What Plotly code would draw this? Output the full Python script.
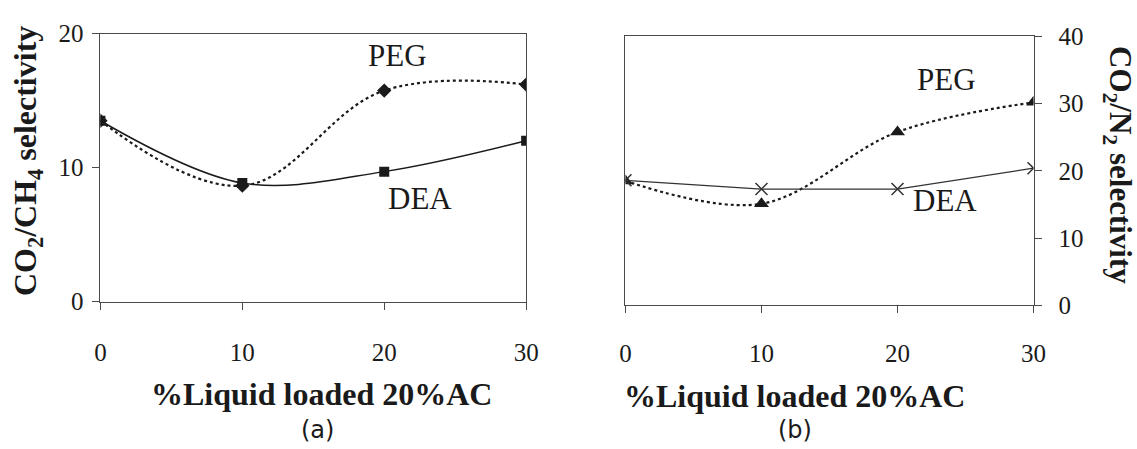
import plotly.graph_objects as go

# ---- data ----
loading = [0, 10, 20, 30]
peg_ch4 = [13.5, 8.65, 15.75, 16.2]
dea_ch4 = [13.5, 8.85, 9.7, 12.0]
peg_n2 = [18.5, 15.1, 25.8, 30.2]
dea_n2 = [18.6, 17.3, 17.3, 20.4]
xticks = [0, 10, 20, 30]
yticks_a = [0, 10, 20]
yticks_b = [0, 10, 20, 30, 40]

SERIF = "Liberation Serif, Times New Roman, serif"
INK = "#1a1a1a"
AXC = "#4a4a4a"

fig = go.Figure()

# (a) CO2/CH4
fig.add_trace(go.Scatter(x=loading, y=peg_ch4, mode="lines+markers", xaxis="x", yaxis="y",
                         line=dict(color=INK, width=2.2, dash="dot", shape="spline", smoothing=1.1),
                         marker=dict(symbol="diamond", size=11, color=INK), showlegend=False))
fig.add_trace(go.Scatter(x=loading, y=dea_ch4, mode="lines+markers", xaxis="x", yaxis="y",
                         line=dict(color=INK, width=1.5, shape="spline", smoothing=1.0),
                         marker=dict(symbol="square", size=10, color=INK), showlegend=False))

# (b) CO2/N2
fig.add_trace(go.Scatter(x=loading, y=peg_n2, mode="lines+markers", xaxis="x2", yaxis="y2",
                         line=dict(color=INK, width=2.2, dash="dot", shape="spline", smoothing=1.0),
                         marker=dict(symbol="triangle-up", size=13, color=INK), showlegend=False))
fig.add_trace(go.Scatter(x=loading, y=dea_n2, mode="lines+markers", xaxis="x2", yaxis="y2",
                         line=dict(color="#333333", width=1.2),
                         marker=dict(symbol="x-thin", size=12, line=dict(color="#333333", width=1.5)),
                         showlegend=False))

axis_common = dict(showgrid=False, zeroline=False, showline=True, linecolor=AXC, linewidth=1,
                   ticks="outside", tickcolor=AXC, ticklen=7, tickwidth=1, mirror=True,
                   tickfont=dict(family=SERIF, size=25, color=INK))

fig.update_layout(
    width=1137, height=449,
    margin=dict(l=0, r=0, t=0, b=0),
    paper_bgcolor="white", plot_bgcolor="white",
    xaxis=dict(domain=[96/1137, 529/1137], range=[0, 30], tickvals=xticks,
               anchor="y", ticklabelstandoff=21, **axis_common),
    yaxis=dict(domain=[142/449, 427/449], range=[0, 20], tickvals=yticks_a,
               anchor="x", ticklabelstandoff=4, **axis_common),
    xaxis2=dict(domain=[630/1137, 1045/1137], range=[0, 30], tickvals=xticks,
                anchor="y2", ticklabelstandoff=19, **axis_common),
    yaxis2=dict(domain=[138/449, 424/449], range=[0, 40], tickvals=yticks_b, side="right",
                anchor="x2", ticklabelstandoff=12, **axis_common),
)

def ann(text, x, y, xref="paper", yref="paper", size=30, bold=False, angle=0, family=SERIF,
        xshift=0, yshift=0):
    t = f"<b>{text}</b>" if bold else text
    fig.add_annotation(text=t, x=x, y=y, xref=xref, yref=yref, showarrow=False,
                       textangle=angle, xanchor="center", yanchor="middle",
                       xshift=xshift, yshift=yshift,
                       font=dict(family=family, size=size, color=INK))

# series labels
ann("PEG", 20.9, 17.7, "x", "y", size=31, yshift=9)
ann("DEA", 22.5, 7.3, "x", "y", size=31, yshift=5)
ann("PEG", 23.1, 32.2, "x2", "y2", size=31, xshift=7, yshift=9)
ann("DEA", 23.0, 15.0, "x2", "y2", size=31, xshift=7, yshift=4)

# axis titles
ann("CO<sub>2</sub>/CH<sub>4</sub> selectivity", 27/1137, (449-158)/449, size=32, bold=True, angle=-90,
    xshift=-5)
ann("CO<sub>2</sub>/N<sub>2</sub> selectivity", 1122/1137, (449-162)/449, size=31, bold=True, angle=90,
    xshift=8)
ann("%Liquid loaded 20%AC", 321/1137, (449-397)/449, size=32, bold=True, yshift=-8)
ann("%Liquid loaded 20%AC", 802/1137, (449-398)/449, size=32, bold=True, yshift=-9)

# panel labels
ann("(a)", 317/1137, (449-432)/449, size=24, family="DejaVu Sans, sans-serif", yshift=-11)
ann("(b)", 802/1137, (449-432)/449, size=24, family="DejaVu Sans, sans-serif", yshift=-11)

fig.write_html("out.html")
